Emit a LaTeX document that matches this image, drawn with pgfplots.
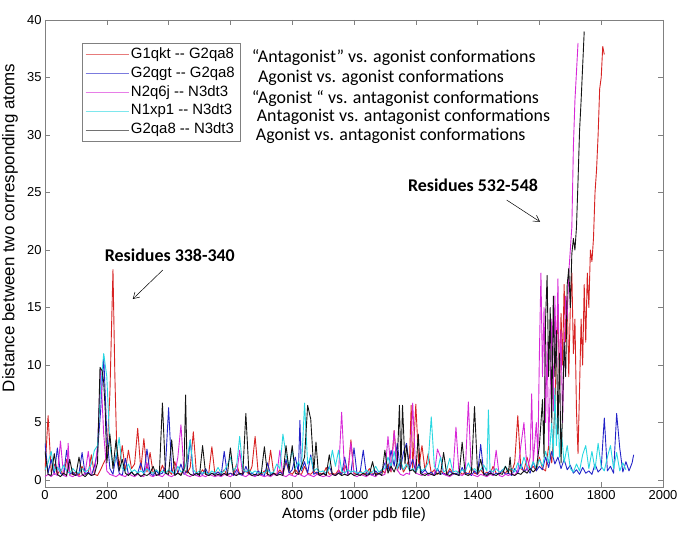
\documentclass[border=0pt]{standalone}
\usepackage{fontspec}
\setmainfont{Liberation Sans}
\newfontfamily\calibri{Carlito}
\usepackage{pgfplots}
\pgfplotsset{compat=1.18}
\usetikzlibrary{arrows.meta}

\definecolor{mred}{RGB}{215,35,35}
\definecolor{mblue}{RGB}{35,35,200}
\definecolor{mmag}{RGB}{215,40,215}
\definecolor{mcyan}{RGB}{40,215,225}
\definecolor{mblack}{RGB}{20,20,20}

\begin{document}
\begin{tikzpicture}
\useasboundingbox (-45bp,-48bp) rectangle (640bp,487bp);
\begin{axis}[
  scale only axis, width=618bp, height=467bp,
  at={(0,0)}, anchor=south west,
  xmin=0, xmax=2000, ymin=-0.6, ymax=40,
  xtick={0,200,...,2000}, ytick={0,5,...,40},
  tick align=inside, tick pos=both, major tick length=5bp,
  axis line style={gray}, every tick/.style={gray},
  ticklabel style={font=\fontsize{13}{15}\selectfont},
  /pgf/number format/assume math mode=true,
  /pgf/number format/1000 sep={},
  xlabel={Atoms (order pdb file)},
  ylabel={Distance between two corresponding atoms},
  xlabel style={at={(axis description cs:0.5,-0.06)}, anchor=center,
    font=\fontsize{15}{18}\selectfont},
  ylabel style={at={(axis description cs:-0.0566,0.555)}, anchor=center,
    font=\fontsize{17}{20}\selectfont},
  legend style={at={(0.060,0.951)}, anchor=north west, draw=gray, fill=white,
    font=\fontsize{15}{17}\selectfont, row sep=0pt,
    nodes={inner sep=2.2bp, text depth=3.5bp, text height=11bp}},
  legend cell align=left,
  legend image code/.code={\draw[#1, line width=0.5pt, opacity=0.6] (0bp,0bp) -- (43bp,0bp);},
  every axis plot/.append style={line width=0.9pt, line join=round},
]
% G1qkt -- G2qa8
\addplot[mred] coordinates {
(0,0.8)(10,5.6)(20,0.7)(30,1.4)(40,0.5)(50,0.9)(60,0.4)(70,1.8)(80,0.6)(90,0.5)
(100,0.7)(110,0.4)(120,1.2)(130,0.5)(140,0.6)(150,2.2)(160,0.5)(170,0.4)(180,0.9)(190,1.5)
(200,2.0)(210,7.5)(220,18.3)(226,9.2)(232,3.0)(240,1.2)(250,3.0)(260,0.8)(270,2.6)(280,1.0)
(290,1.4)(300,4.5)(310,0.9)(320,3.6)(330,0.7)(340,2.4)(350,0.6)(360,0.9)(370,0.5)(380,1.3)
(390,0.6)(400,0.8)(410,0.5)(420,1.6)(430,0.6)(440,0.5)(450,0.9)(460,0.6)(470,1.1)(480,4.2)
(490,0.6)(500,0.5)(510,0.9)(520,0.5)(530,0.6)(540,2.9)(550,0.5)(560,0.7)(570,0.5)(580,0.9)
(590,0.4)(600,0.6)(610,0.5)(620,1.4)(630,0.5)(640,0.6)(650,0.8)(660,0.5)(670,1.2)(680,3.8)
(690,0.6)(700,0.5)(710,0.8)(720,0.5)(730,2.6)(740,0.6)(750,0.5)(760,0.9)(770,0.5)(780,1.6)
(790,0.7)(800,0.5)(810,0.9)(820,0.6)(830,0.5)(840,1.2)(850,0.6)(860,0.5)(870,0.8)(880,0.5)
(890,0.6)(900,0.5)(910,1.1)(920,0.5)(930,0.6)(940,0.5)(950,0.9)(960,0.5)(970,1.3)(980,0.6)
(990,3.5)(1000,0.6)(1010,0.5)(1020,0.8)(1030,0.5)(1040,0.6)(1050,1.0)(1060,0.5)(1070,0.6)(1080,0.5)
(1090,0.9)(1100,0.6)(1110,1.4)(1120,0.7)(1130,4.3)(1140,0.8)(1150,1.6)(1160,0.7)(1170,1.2)(1180,2.0)
(1185,6.5)(1190,1.0)(1200,6.6)(1210,1.2)(1220,3.0)(1230,0.8)(1240,2.3)(1250,0.6)(1260,0.9)(1270,0.5)
(1280,0.8)(1290,0.6)(1300,0.5)(1310,1.0)(1320,0.6)(1330,0.5)(1340,0.8)(1350,0.5)(1360,0.7)(1370,0.5)
(1380,1.1)(1390,0.6)(1400,0.5)(1410,0.9)(1420,0.5)(1430,0.7)(1440,0.5)(1450,1.2)(1460,0.6)(1470,0.5)
(1480,0.8)(1490,0.6)(1500,1.0)(1510,0.7)(1520,1.5)(1530,5.6)(1540,1.0)(1550,0.8)(1560,2.0)(1570,0.9)
(1580,1.2)(1590,0.8)(1600,2.0)(1610,1.0)(1620,0.8)(1630,3.0)(1640,1.5)(1650,6.0)(1655,11)(1660,15)
(1665,8)(1670,14.5)(1675,10)(1680,17)(1685,12)(1690,16)(1695,9)(1700,15)(1705,18)(1710,11)
(1715,14)(1720,6)(1725,2.3)(1730,8)(1735,14)(1740,10)(1745,17)(1750,12)(1755,18)(1760,15)
(1765,20)(1770,19)(1775,21)(1780,25)(1785,27)(1790,30)(1795,34)(1800,35)(1805,37.7)(1810,37)
};
% G2qgt -- G2qa8
\addplot[mblue] coordinates {
(0,3.2)(10,0.6)(20,1.8)(30,0.5)(40,2.8)(50,0.6)(60,0.4)(70,2.6)(80,0.5)(90,0.7)
(100,0.4)(110,0.6)(120,2.4)(130,0.5)(140,0.7)(150,0.4)(160,1.2)(170,2.5)(180,6)(190,10.8)
(200,4)(210,1.0)(220,0.5)(230,2.2)(240,0.6)(250,0.4)(260,1.9)(270,0.5)(280,0.7)(290,0.4)
(300,0.6)(310,1.5)(320,0.5)(330,2.7)(340,0.6)(350,0.4)(360,0.8)(370,0.5)(380,0.6)(390,1.2)
(400,6.3)(410,0.8)(420,0.5)(430,0.6)(440,1.4)(450,0.5)(460,0.8)(470,3.5)(480,0.6)(490,0.4)
(500,0.6)(510,0.5)(520,1.0)(530,0.4)(540,0.6)(550,0.5)(560,0.7)(570,0.4)(580,2.5)(590,0.5)
(600,0.6)(610,0.4)(620,0.9)(630,0.5)(640,0.4)(650,1.2)(660,0.5)(670,0.6)(680,0.4)(690,0.8)
(700,0.5)(710,0.4)(720,1.5)(730,0.5)(740,0.6)(750,0.4)(760,0.7)(770,0.5)(780,1.8)(790,0.6)
(800,0.9)(810,2.0)(820,0.7)(825,5.2)(830,0.8)(840,1.6)(850,0.6)(860,2.2)(870,0.5)(880,0.7)
(890,0.4)(900,0.6)(910,0.5)(920,1.2)(930,0.5)(940,0.4)(950,0.7)(960,0.5)(970,2.0)(980,0.5)
(990,0.6)(1000,2.8)(1010,0.5)(1020,0.7)(1030,2.6)(1040,0.5)(1050,0.6)(1060,0.4)(1070,0.8)(1080,0.5)
(1090,0.7)(1100,1.5)(1110,0.8)(1120,2.6)(1130,1.2)(1140,3.2)(1150,0.9)(1160,2.4)(1170,3.2)(1180,1.0)
(1190,1.8)(1200,0.7)(1210,1.4)(1220,0.6)(1230,0.9)(1240,0.5)(1250,0.7)(1260,0.4)(1270,1.0)(1280,0.5)
(1290,0.6)(1300,0.4)(1310,0.8)(1320,0.5)(1330,0.6)(1340,0.4)(1350,1.1)(1360,0.5)(1370,0.6)(1380,0.4)
(1390,0.8)(1400,0.5)(1410,3.1)(1420,0.6)(1430,0.5)(1440,0.8)(1450,0.4)(1460,0.6)(1470,0.5)(1480,0.9)
(1490,0.5)(1500,0.6)(1510,0.4)(1520,1.0)(1530,0.6)(1540,1.4)(1550,0.7)(1560,1.0)(1570,0.6)(1580,1.6)
(1590,0.8)(1600,1.2)(1610,0.9)(1620,2.0)(1630,1.1)(1640,2.5)(1650,1.4)(1660,2.0)(1670,1.0)(1680,1.8)
(1690,0.9)(1700,1.3)(1710,0.6)(1720,0.9)(1730,0.5)(1740,1.1)(1750,0.6)(1760,0.8)(1770,0.5)(1780,1.4)
(1790,0.7)(1800,1.0)(1810,5.4)(1820,0.8)(1830,1.2)(1840,0.6)(1850,5.8)(1860,2.8)(1870,0.7)(1880,1.6)
(1890,0.8)(1900,1.5)(1905,2.2)
};
% N2q6j -- N3dt3
\addplot[mmag] coordinates {
(0,0.3)(10,0.5)(20,0.3)(30,0.6)(40,0.4)(50,3.4)(60,0.4)(70,0.3)(75,3.2)(80,0.4)(90,0.3)
(100,0.5)(110,0.3)(120,0.4)(130,0.6)(140,2.5)(150,0.4)(160,0.5)(170,3.0)(180,9.6)(190,4)
(200,0.8)(210,0.5)(220,0.4)(230,0.3)(240,0.5)(250,0.4)(260,0.3)(270,0.6)(280,0.4)(290,0.3)
(300,0.5)(310,0.4)(320,0.3)(330,1.5)(340,0.4)(350,0.3)(360,0.5)(370,0.4)(380,0.3)(390,0.6)
(400,0.4)(410,0.3)(420,0.5)(430,2.0)(440,4.8)(450,0.6)(460,0.4)(470,0.3)(480,0.5)(490,0.4)
(500,0.3)(510,0.4)(520,0.3)(530,0.5)(540,0.4)(550,0.3)(560,0.4)(570,0.3)(580,0.5)(590,0.4)
(600,0.3)(610,0.5)(620,0.4)(630,2.6)(640,0.4)(650,0.3)(660,0.5)(670,0.4)(680,0.3)(690,0.5)
(700,0.4)(710,0.3)(720,0.4)(730,0.3)(740,0.5)(750,0.4)(760,2.6)(770,0.4)(780,0.3)(790,0.5)
(800,0.4)(810,0.3)(820,0.6)(830,0.4)(840,0.3)(850,0.5)(860,0.4)(870,0.3)(880,0.5)(890,0.4)
(900,0.3)(910,0.4)(920,0.3)(930,0.5)(940,0.4)(950,0.6)(960,5.9)(970,0.5)(980,0.4)(990,3.3)
(1000,0.4)(1010,0.3)(1020,0.5)(1030,0.4)(1040,0.3)(1050,0.5)(1060,0.4)(1070,0.3)(1080,0.6)(1090,0.4)
(1100,0.5)(1110,3.8)(1120,0.8)(1130,4.3)(1140,0.9)(1150,0.5)(1160,0.4)(1170,0.6)(1180,0.5)(1190,6.7)
(1200,0.6)(1210,0.5)(1220,0.4)(1230,0.6)(1240,0.4)(1250,0.5)(1260,0.4)(1270,2.7)(1280,2.0)(1290,0.5)
(1300,0.4)(1310,0.3)(1320,0.5)(1330,4.6)(1340,0.5)(1350,0.4)(1360,0.6)(1370,6.8)(1380,0.5)(1390,0.4)
(1400,0.3)(1410,0.5)(1420,0.4)(1430,0.3)(1440,0.5)(1450,0.4)(1460,2.6)(1470,0.4)(1480,0.3)(1490,0.5)
(1500,0.4)(1510,0.6)(1520,0.4)(1530,0.8)(1540,3.0)(1550,5.0)(1560,0.8)(1570,2.0)(1575,7.5)(1580,1.5)
(1590,5)(1595,2)(1600,11)(1605,18)(1610,9)(1615,15)(1620,5)(1625,12)(1630,3)(1635,8)
(1640,14)(1645,6)(1650,16)(1655,10)(1660,17.5)(1665,8)(1670,13)(1675,5)(1680,11)(1685,16)
(1690,14)(1695,18)(1700,20)(1705,22)(1710,29)(1715,33)(1720,35.5)(1725,38)
};
% N1xp1 -- N3dt3
\addplot[mcyan] coordinates {
(0,0.9)(10,1.5)(20,2.5)(30,0.8)(40,1.1)(50,0.7)(60,1.3)(70,0.8)(80,0.6)(90,1.0)
(100,0.7)(110,0.6)(120,1.0)(130,0.7)(140,0.9)(150,1.4)(160,2.6)(170,3.0)(180,8)(190,11)
(200,9)(210,3)(220,1.2)(230,2.0)(240,3.7)(250,1.0)(260,0.8)(270,1.4)(280,0.7)(290,0.9)
(300,0.6)(310,0.8)(320,0.6)(330,1.0)(340,0.7)(350,0.6)(360,0.9)(370,0.6)(380,0.8)(390,0.6)
(400,0.9)(410,0.7)(420,0.6)(430,1.2)(440,0.7)(450,0.8)(460,1.8)(470,3.5)(480,0.9)(490,0.6)
(500,0.8)(510,0.6)(520,0.7)(530,0.5)(540,0.8)(550,0.6)(560,1.1)(570,0.6)(580,0.8)(590,1.3)
(600,2.0)(610,0.8)(620,1.2)(630,3.8)(640,1.0)(650,0.7)(660,0.9)(670,0.6)(680,0.8)(690,0.6)
(700,0.7)(710,0.6)(720,0.9)(730,0.6)(740,0.7)(750,1.4)(760,1.0)(770,4.0)(780,2.2)(790,1.2)
(800,2.6)(810,1.0)(820,1.6)(830,0.9)(840,6.7)(850,1.4)(860,2.0)(870,0.8)(880,1.0)(890,0.7)
(900,0.8)(910,0.6)(920,1.0)(930,2.6)(940,1.2)(950,2.6)(960,0.8)(970,0.6)(980,0.9)(990,0.7)
(1000,0.8)(1010,0.6)(1020,0.7)(1030,0.6)(1040,0.9)(1050,0.6)(1060,0.7)(1070,1.2)(1080,0.7)(1090,0.9)
(1100,1.0)(1110,2.0)(1120,1.2)(1130,2.5)(1140,1.0)(1150,1.8)(1160,0.9)(1170,1.4)(1180,0.8)(1190,1.0)
(1200,0.7)(1210,1.2)(1220,0.8)(1230,1.0)(1240,1.5)(1250,5.5)(1260,1.2)(1270,0.8)(1280,2.0)(1290,0.7)
(1300,0.9)(1310,1.9)(1320,0.7)(1330,0.8)(1340,0.6)(1350,0.9)(1360,0.7)(1370,1.5)(1380,0.8)(1390,1.0)
(1400,0.7)(1410,0.9)(1420,1.3)(1430,0.8)(1435,6.1)(1440,0.9)(1450,0.7)(1460,1.0)(1470,0.7)(1480,0.8)
(1490,1.2)(1500,0.8)(1510,1.0)(1520,0.7)(1530,1.5)(1540,1.0)(1550,2.0)(1560,1.2)(1570,0.9)(1580,1.6)
(1590,1.0)(1600,1.8)(1610,1.2)(1620,2.5)(1630,1.5)(1640,5.0)(1645,2.0)(1650,8.0)(1655,3.0)(1660,6.5)
(1665,2.0)(1670,4.5)(1680,1.5)(1690,3.0)(1700,1.0)(1710,0.7)(1720,1.4)(1730,0.8)(1740,2.2)(1750,3.0)
(1760,1.0)(1770,2.5)(1780,0.9)(1790,3.2)(1800,1.2)(1810,0.8)(1820,2.0)(1830,3.0)(1840,1.0)(1850,2.4)
(1860,0.8)(1870,1.5)(1880,0.9)
};
% G2qa8 -- N3dt3
\addplot[mblack] coordinates {
(0,2.5)(10,0.5)(20,0.4)(30,2.3)(40,0.5)(50,0.3)(60,0.6)(70,0.4)(80,1.8)(90,0.5)
(100,0.4)(110,2.0)(120,0.5)(130,0.3)(140,0.6)(150,0.4)(160,0.5)(170,1.5)(178,9.8)(185,9.5)(190,8.5)(195,6)
(200,1.5)(210,4)(220,1.0)(230,3.5)(240,0.8)(250,1.8)(260,0.6)(270,0.4)(280,0.7)(290,0.4)
(300,0.6)(310,0.3)(320,0.5)(330,0.4)(340,0.6)(350,1.2)(360,0.4)(370,0.5)(380,6.7)(390,0.6)
(400,0.5)(410,3.5)(420,0.4)(430,0.6)(440,0.4)(450,1.0)(455,7.4)(460,0.8)(470,0.5)(480,0.4)
(490,0.6)(500,0.4)(510,3.0)(520,0.5)(530,0.4)(540,0.6)(550,0.4)(560,0.5)(570,0.4)(580,0.6)
(590,0.4)(600,2.8)(610,0.5)(620,0.4)(630,0.6)(640,0.5)(650,5.8)(660,0.6)(670,0.4)(680,0.5)
(690,0.4)(700,0.6)(710,2.9)(720,0.5)(730,0.4)(740,0.6)(750,0.4)(760,0.5)(770,0.4)(780,3.0)
(790,0.8)(800,3.0)(810,0.6)(820,0.5)(830,1.2)(840,2.0)(850,6.5)(860,5.3)(870,0.8)(877,3.3)(885,0.5)
(890,0.4)(900,0.6)(910,0.4)(920,2.2)(930,0.5)(940,0.4)(950,0.6)(960,0.4)(970,0.5)(980,0.4)
(990,0.6)(1000,0.4)(1010,0.5)(1020,0.4)(1030,0.6)(1040,0.4)(1050,0.5)(1060,1.6)(1070,0.4)(1080,0.6)
(1090,0.4)(1100,2.6)(1110,0.6)(1120,1.2)(1130,0.7)(1140,1.5)(1147,6.5)(1152,1.0)(1157,6.5)(1165,1.4)(1170,3.0)(1180,0.8)
(1190,0.9)(1200,0.6)(1208,4.0)(1215,0.6)(1220,0.5)(1230,0.4)(1240,0.6)(1250,0.5)(1260,0.4)(1270,0.6)
(1280,0.5)(1290,2.4)(1300,0.5)(1310,0.4)(1320,0.6)(1330,0.5)(1340,0.4)(1350,3.3)(1360,0.5)(1370,0.4)
(1380,0.6)(1390,6.4)(1400,0.6)(1410,1.8)(1420,0.5)(1430,0.4)(1440,0.6)(1450,0.5)(1460,0.4)(1470,0.6)
(1480,0.5)(1490,1.2)(1500,0.6)(1505,2.0)(1510,0.5)(1520,0.4)(1530,0.6)(1540,0.5)(1550,0.8)(1560,0.6)
(1570,1.0)(1580,0.7)(1590,1.0)(1600,3)(1610,7)(1615,2)(1620,14)(1625,17.8)(1630,9)(1635,15)
(1640,5)(1645,16)(1650,9)(1655,13)(1660,4)(1665,11)(1670,1.5)(1675,6)(1680,12)(1685,9)
(1690,17)(1695,18.4)(1700,15)(1705,19.7)(1710,21)(1715,20)(1720,22)(1725,26)(1730,30.4)(1735,33)
(1740,36)(1745,39)
};
\legend{G1qkt -{}- G2qa8, G2qgt -{}- G2qa8, N2q6j -{}- N3dt3, N1xp1 -{}- N3dt3, G2qa8 -{}- N3dt3}

\begin{scope}[every node/.style={anchor=west, inner sep=0pt, font=\calibri\fontsize{18}{20}\selectfont}]
\node at (axis cs:669,36.7) {“Antagonist” vs. agonist conformations};
\node at (axis cs:689,34.95) {Agonist vs. agonist conformations};
\node at (axis cs:669,33.2) {“Agonist “ vs. antagonist conformations};
\node at (axis cs:685,31.6) {Antagonist vs. antagonist conformations};
\node at (axis cs:682,29.95) {Agonist vs. antagonist conformations};
\end{scope}
\node[font=\calibri\bfseries\fontsize{18}{20}\selectfont] at (axis cs:404,19.57) {Residues 338-340};
\draw[-{Straight Barb[length=6bp,width=7bp]}, line width=0.5pt] (axis cs:381,18.26) -- (axis cs:284,15.74);
\node[font=\calibri\bfseries\fontsize{18}{20}\selectfont] at (axis cs:1385,25.65) {Residues 532-548};
\draw[-{Straight Barb[length=6bp,width=7bp]}, line width=0.5pt] (axis cs:1494,24.35) -- (axis cs:1602,22.46);
\end{axis}
\end{tikzpicture}
\end{document}
